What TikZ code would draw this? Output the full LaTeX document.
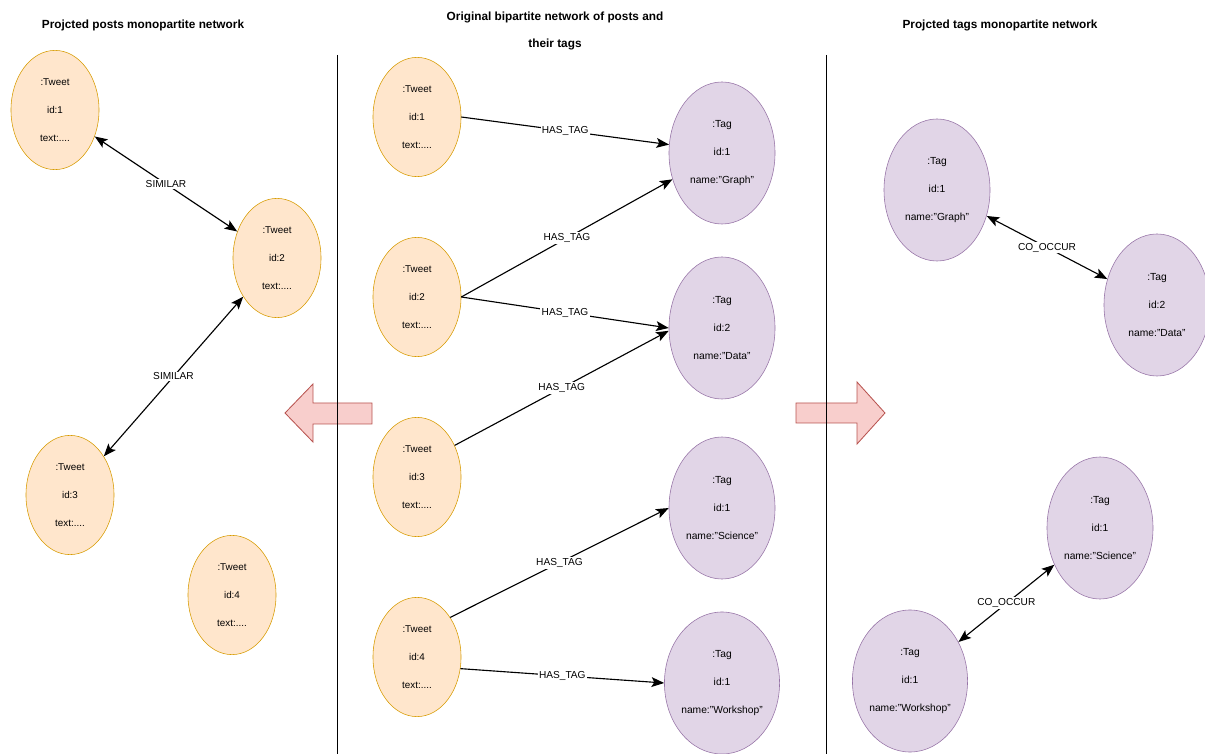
\documentclass[tikz,border=0pt]{standalone}
\usepackage{fontspec}
\setmainfont{Liberation Sans}
\usetikzlibrary{shapes.geometric, arrows.meta}

\definecolor{tweetfill}{HTML}{FFE6CC}
\definecolor{tweetline}{HTML}{D79B00}
\definecolor{tagfill}{HTML}{E1D5E7}
\definecolor{tagline}{HTML}{9673A6}
\definecolor{arrowfill}{HTML}{F8CECC}
\definecolor{arrowline}{HTML}{B85450}

\tikzset{
    tweet/.style={draw=tweetline, fill=tweetfill, ellipse, inner sep=0pt,
        minimum width=2.2cm, minimum height=2.98cm, align=center,
        font=\fontsize{7}{20}\selectfont},
    tagnode/.style={draw=tagline, fill=tagfill, ellipse, inner sep=0pt,
        minimum width=2.65cm, minimum height=3.55cm, align=center,
        font=\fontsize{7.3}{20}\selectfont},
    rel/.style={line width=0.8pt},
    rellabel/.style={fill=white, inner sep=1pt, font=\fontsize{7.2}{8}\selectfont},
    heading/.style={align=center, font=\fontsize{8.4}{19.5}\selectfont\bfseries},
    fatarrow/.style={draw=arrowline, fill=arrowfill, line width=0.6pt},
}

\begin{document}
\begin{tikzpicture}[x=0.025cm, y=-0.025cm, >={Stealth[length=9pt, width=7pt, inset=2pt]}]
        \useasboundingbox (0,0) rectangle (1205,754);

        % Headings of the three panels
        \node[heading] (head-posts) at (143,25) {Projcted posts monopartite network};
        \node[heading] (head-orig) at (555,31) {Original bipartite network of posts and\\their tags};
        \node[heading] (head-tags) at (1000,25) {Projcted tags monopartite network};

        % Middle: tweets and their tags
        \foreach \i/\y in {1/117, 2/297, 3/477, 4/657}
            \node[tweet] (tw\i) at (417,\y) {:Tweet\\id:\i\\text:....};

        \node[tagnode] (tg1) at (722,153) {:Tag\\id:1\\name:"Graph"};
        \node[tagnode] (tg2) at (722,328) {:Tag\\id:2\\name:"Data"};
        \node[tagnode] (tg3) at (722,508) {:Tag\\id:1\\name:"Science"};
        \node[tagnode] (tg4) at (722,683) {:Tag\\id:1\\name:"Workshop"};

        \draw[rel, ->] (tw1.east) -- node[rellabel] {HAS\_TAG} (tg1.171);
        \draw[rel, ->] (tw2.east) -- node[rellabel] {HAS\_TAG} (tg1.208);
        \draw[rel, ->] (tw2.east) -- node[rellabel] {HAS\_TAG} (tg2.west);
        \draw[rel, ->] (tw3.40) -- node[rellabel] {HAS\_TAG} (tg2.183);
        \draw[rel, ->] (tw4.50) -- node[rellabel] {HAS\_TAG} (tg3.west);
        \draw[rel, ->] (tw4.-15) -- node[rellabel] {HAS\_TAG} (tg4.west);

        % Left: projected posts
        \node[tweet] (post1) at (55,110) {:Tweet\\id:1\\text:....};
        \node[tweet] (post2) at (277,258) {:Tweet\\id:2\\text:....};
        \node[tweet] (post3) at (70,495) {:Tweet\\id:3\\text:....};
        \node[tweet] (post4) at (232,595) {:Tweet\\id:4\\text:....};

        \draw[rel, <->] (post1) -- node[rellabel] {SIMILAR} (post2);
        \draw[rel, <->] (post2) -- node[rellabel] {SIMILAR} (post3);

        % Right: projected tags
        \node[tagnode] (ptag1) at (937,190) {:Tag\\id:1\\name:"Graph"};
        \node[tagnode] (ptag2) at (1157,305) {:Tag\\id:2\\name:"Data"};
        \node[tagnode] (ptag3) at (1100,528) {:Tag\\id:1\\name:"Science"};
        \node[tagnode] (ptag4) at (910,681) {:Tag\\id:1\\name:"Workshop"};

        \draw[rel, <->] (ptag1) -- node[rellabel] {CO\_OCCUR} (ptag2);
        \draw[rel, <->] (ptag3) -- node[rellabel] {CO\_OCCUR} (ptag4);

        % Projection arrows
        \draw[fatarrow] (285,413) -- (313,384) -- (313,403) -- (372,403)
            -- (372,424) -- (313,424) -- (313,442) -- cycle;
        \draw[fatarrow] (885,413) -- (857,382) -- (857,403) -- (796,403)
            -- (796,423) -- (857,423) -- (857,444) -- cycle;

        % Panel separators
        \coordinate (sep1-top) at (337,55);
        \coordinate (sep1-bot) at (337,754);
        \coordinate (sep2-top) at (826,55);
        \coordinate (sep2-bot) at (826,754);
        \draw[line width=0.6pt] (sep1-top) -- (sep1-bot);
        \draw[line width=0.6pt] (sep2-top) -- (sep2-bot);
    \end{tikzpicture}
\end{document}
